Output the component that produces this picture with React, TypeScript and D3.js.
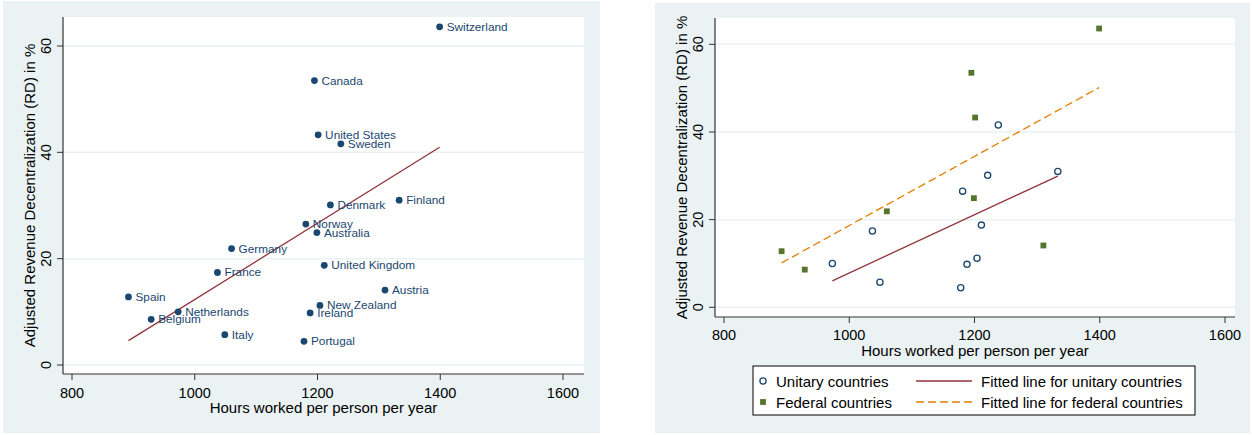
import React from "react";
import * as d3 from "d3";

const countries = ["Switzerland","Canada","United States","Sweden","Denmark","Finland","Norway","Australia","United Kingdom","Austria","New Zealand","Ireland","Portugal","Germany","France","Spain","Netherlands","Belgium","Italy"];
const hours = [1399,1195,1201,1238,1221,1333,1181,1199,1211,1310,1204,1188,1178,1060,1037,892,973,929,1049];
const rd = [63.6,53.5,43.3,41.6,30.1,31.0,26.5,24.9,18.75,14.1,11.2,9.8,4.45,21.9,17.4,12.8,10.0,8.6,5.7];
const federal = [true,true,true,false,false,false,false,true,false,true,false,false,false,true,false,true,false,true,false];

const xTicks = [800,1000,1200,1400,1600];
const yTicks = [0,20,40,60];
const xTitle = "Hours worked per person per year";
const yTitle = "Adjusted Revenue Decentralization (RD) in %";
const legendItems = ["Unitary countries","Federal countries","Fitted line for unitary countries","Fitted line for federal countries"];

const NAVY = "#1a476f";
const MAROON = "#90353b";
const GREEN = "#55752f";
const ORANGE = "#e37e00";
const BG = "#eaf2f3";
const FONT = "'Liberation Sans', Arial, Helvetica, sans-serif";

function fit(idx: number[]) {
  const xs = idx.map(i => hours[i]);
  const ys = idx.map(i => rd[i]);
  const mx = d3.mean(xs)!, my = d3.mean(ys)!;
  let sxy = 0, sxx = 0;
  xs.forEach((x, k) => { sxy += (x - mx) * (ys[k] - my); sxx += (x - mx) * (x - mx); });
  const b = sxy / sxx, a = my - b * mx;
  const [x0, x1] = d3.extent(xs) as [number, number];
  return [[x0, a + b * x0], [x1, a + b * x1]] as [number, number][];
}

type Frame = { bx: number; by: number; bw: number; bh: number; l: number; t: number; r: number; b: number; xr: [number, number]; yr: [number, number]; tickFs: number; titleFs: number; xTickY: number; xTitleY: number; yTickX: number; yTitleX: number };

function Axes({ f, x, y }: { f: Frame; x: d3.ScaleLinear<number, number>; y: d3.ScaleLinear<number, number> }) {
  return (
    <g>
      <rect x={f.bx} y={f.by} width={f.bw} height={f.bh} fill={BG} />
      <rect x={f.l} y={f.t} width={f.r - f.l} height={f.b - f.t} fill="#ffffff" />
      {yTicks.map(v => (
        <line key={"g" + v} x1={f.l} x2={f.r} y1={y(v)} y2={y(v)} stroke={BG} strokeWidth={1.5} />
      ))}
      <line x1={f.l} x2={f.l} y1={f.t} y2={f.b} stroke="#333" strokeWidth={1.2} />
      <line x1={f.l} x2={f.r} y1={f.b} y2={f.b} stroke="#333" strokeWidth={1.2} />
      {yTicks.map(v => (
        <g key={"y" + v}>
          <line x1={f.l - 6} x2={f.l} y1={y(v)} y2={y(v)} stroke="#333" strokeWidth={1} />
          <text transform={`translate(${f.yTickX},${y(v)}) rotate(-90)`} textAnchor="middle" dominantBaseline="central" fontSize={f.tickFs} fontFamily={FONT} fill="#000">{v}</text>
        </g>
      ))}
      {xTicks.map(v => (
        <g key={"x" + v}>
          <line x1={x(v)} x2={x(v)} y1={f.b} y2={f.b + 6} stroke="#333" strokeWidth={1} />
          <text x={x(v)} y={f.xTickY} textAnchor="middle" dominantBaseline="central" fontSize={f.tickFs} fontFamily={FONT} fill="#000">{v}</text>
        </g>
      ))}
      <text x={(f.l + f.r) / 2} y={f.xTitleY} textAnchor="middle" dominantBaseline="central" fontSize={f.titleFs} fontFamily={FONT} fill="#000">{xTitle}</text>
      <text transform={`translate(${f.yTitleX},${(f.t + f.b) / 2}) rotate(-90)`} textAnchor="middle" dominantBaseline="central" fontSize={f.titleFs} fontFamily={FONT} fill="#000">{yTitle}</text>
    </g>
  );
}

export default function App() {
  const fl: Frame = { bx: 3, by: 1, bw: 597, bh: 432, l: 63, t: 17, r: 584, b: 374, xr: [72, 563], yr: [365, 46], tickFs: 14.5, titleFs: 15, xTickY: 393, xTitleY: 407, yTickX: 46, yTitleX: 29 };
  const fr: Frame = { bx: 655, by: 3, bw: 595, bh: 430, l: 715, t: 18, r: 1235, b: 317, xr: [724, 1225], yr: [307.3, 44.3], tickFs: 14.5, titleFs: 15, xTickY: 335, xTitleY: 350, yTickX: 698, yTitleX: 681 };
  const xl = d3.scaleLinear().domain([800, 1600]).range(fl.xr);
  const yl = d3.scaleLinear().domain([0, 60]).range(fl.yr);
  const xr = d3.scaleLinear().domain([800, 1600]).range(fr.xr);
  const yr = d3.scaleLinear().domain([0, 60]).range(fr.yr);
  const all = countries.map((_, i) => i);
  const uni = all.filter(i => !federal[i]);
  const fed = all.filter(i => federal[i]);
  const lineL = d3.line<[number, number]>().x(d => xl(d[0])).y(d => yl(d[1]));
  const lineR = d3.line<[number, number]>().x(d => xr(d[0])).y(d => yr(d[1]));

  const lgX = 753, lgY = 366, lgW = 442, lgH = 49;
  const row1 = 381, row2 = 402;

  return (
    <svg width={1252} height={435} style={{ position: "absolute", left: 0, top: 0 }}>
      <rect x={0} y={0} width={1252} height={435} fill="#fff" />
      <Axes f={fl} x={xl} y={yl} />
      <path d={lineL(fit(all))!} fill="none" stroke={MAROON} strokeWidth={1.3} />
      {all.map(i => (
        <g key={"p" + i}>
          <circle cx={xl(hours[i])} cy={yl(rd[i])} r={3.4} fill={NAVY} />
          <text x={xl(hours[i]) + 7} y={yl(rd[i])} dominantBaseline="central" fontSize={11.8} fontFamily={FONT} fill={NAVY}>{countries[i]}</text>
        </g>
      ))}

      <Axes f={fr} x={xr} y={yr} />
      <path d={lineR(fit(uni))!} fill="none" stroke={MAROON} strokeWidth={1.3} />
      <path d={lineR(fit(fed))!} fill="none" stroke={ORANGE} strokeWidth={1.3} strokeDasharray="8,4" />
      {uni.map(i => (
        <circle key={"u" + i} cx={xr(hours[i])} cy={yr(rd[i])} r={3.1} fill="none" stroke={NAVY} strokeWidth={1.3} />
      ))}
      {fed.map(i => (
        <rect key={"f" + i} x={xr(hours[i]) - 2.9} y={yr(rd[i]) - 2.9} width={5.8} height={5.8} fill={GREEN} />
      ))}

      <rect x={lgX} y={lgY} width={lgW} height={lgH} fill="#fff" stroke="#000" strokeWidth={1} />
      <circle cx={763} cy={row1} r={3.1} fill="none" stroke={NAVY} strokeWidth={1.3} />
      <rect x={763 - 2.9} y={row2 - 2.9} width={5.8} height={5.8} fill={GREEN} />
      <text x={776} y={row1} dominantBaseline="central" fontSize={15} fontFamily={FONT}>{legendItems[0]}</text>
      <text x={776} y={row2} dominantBaseline="central" fontSize={15} fontFamily={FONT}>{legendItems[1]}</text>
      <line x1={916} x2={972} y1={row1} y2={row1} stroke={MAROON} strokeWidth={1.3} />
      <line x1={916} x2={972} y1={row2} y2={row2} stroke={ORANGE} strokeWidth={1.3} strokeDasharray="8,4" />
      <text x={981} y={row1} dominantBaseline="central" fontSize={15} fontFamily={FONT}>{legendItems[2]}</text>
      <text x={981} y={row2} dominantBaseline="central" fontSize={15} fontFamily={FONT}>{legendItems[3]}</text>
    </svg>
  );
}
